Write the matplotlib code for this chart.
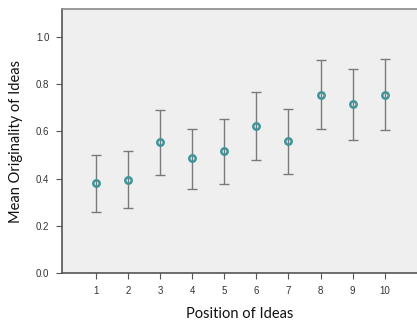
import matplotlib
matplotlib.use("Agg")
import matplotlib.pyplot as plt
import numpy as np

plt.rcParams["font.family"] = ["Liberation Sans", "DejaVu Sans"]

positions = [1, 2, 3, 4, 5, 6, 7, 8, 9, 10]
means = [0.380, 0.394, 0.553, 0.486, 0.515, 0.622, 0.558, 0.755, 0.714, 0.755]
upper = [0.500, 0.516, 0.691, 0.610, 0.653, 0.765, 0.696, 0.902, 0.863, 0.904]
lower = [0.260, 0.275, 0.417, 0.357, 0.379, 0.479, 0.421, 0.610, 0.562, 0.607]
yticks = [0.0, 0.2, 0.4, 0.6, 0.8, 1.0]

fig = plt.figure(figsize=(4.17, 3.22), dpi=100)
ax = fig.add_axes([62/417, 1 - 273.3/322, 1 - 62/417, (273.3 - 9)/322])
ax.set_facecolor("#efefef")

m = np.array(means)
yerr = [m - np.array(lower), np.array(upper) - m]
ax.errorbar(positions, means, yerr=yerr, fmt="none", ecolor="#7a7a7a",
            elinewidth=1.0, capsize=3.5, capthick=1.0, zorder=2)
ax.plot(positions, means, "o", markersize=4.6, markerfacecolor="none",
        markeredgecolor="#3f9699", markeredgewidth=1.8, zorder=3)

ax.set_xlim(-0.05, 11.0)
ax.set_ylim(0, 1.117)
ax.set_xticks(positions)
ax.set_yticks(yticks)
ax.set_yticklabels([f"{v:.1f}" for v in yticks])

for s in ["left", "bottom"]:
    ax.spines[s].set_color("#555555")
    ax.spines[s].set_linewidth(1.2)
ax.spines["top"].set_color("#8a8a8a")
ax.spines["top"].set_linewidth(1.2)
ax.spines["right"].set_visible(False)

ax.tick_params(axis="both", direction="out", length=4, width=0.8, color="#555555",
               labelsize=7, labelcolor="#333333", pad=5)

ax.set_xlabel("Position of Ideas", fontsize=10.5, family="Lato", labelpad=8, color="#111111")
ax.set_ylabel("Mean Originality of Ideas", fontsize=10.5, family="Lato", labelpad=9, color="#111111")

fig.savefig("out.png", dpi=100)
